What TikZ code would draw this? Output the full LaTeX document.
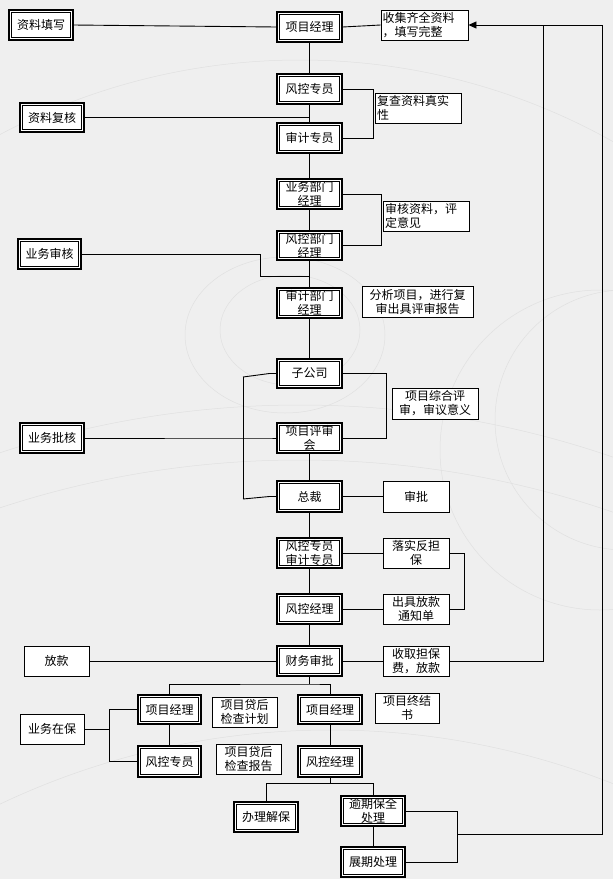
\documentclass[tikz,border=0pt]{standalone}
\usepackage{fontspec}
\newfontfamily\cjk{Noto Sans CJK SC}
\usetikzlibrary{arrows.meta,calc}
\definecolor{pageBg}  {HTML}{EFEFEF}
\definecolor{pageArc} {HTML}{E0E0E0}
\definecolor{flowInk} {HTML}{000000}
\newcommand{\boxat}[7]{%
  \pgfmathsetmacro{\bxc}{(#3+#5)/2}\pgfmathsetmacro{\byc}{(#4+#6)/2}
  \pgfmathsetmacro{\bw}{#5-#3}\pgfmathsetmacro{\bh}{#6-#4}
  \node[#2, minimum width=\bw pt, minimum height=\bh pt] (#1) at (\bxc,\byc) {#7};
}

\begin{document}
\begin{tikzpicture}[x=1pt, y=-1pt,
  every node/.style ={font=\cjk\fontsize{12}{14}\selectfont, inner sep=1pt, align=center, text=flowInk},
  sbox/.style       ={draw=flowInk, line width=0.9pt, fill=white},
  dbox/.style       ={draw=flowInk, line width=1.2pt, fill=white,
                      path picture={\draw[flowInk, line width=0.8pt]
                        ([shift={(2.5pt,2.5pt)}]path picture bounding box.south west) rectangle
                        ([shift={(-2.5pt,-2.5pt)}]path picture bounding box.north east);}},
  lbox/.style       ={sbox, align=left},
  link/.style       ={line width=0.9pt, flowInk},
  back/.style       ={-{Triangle[length=8pt,width=7pt]}, line width=0.9pt, flowInk},
  ring/.style       ={pageArc, line width=0.5pt},
]

\fill[pageBg] (0,0) rectangle (613,879);
\useasboundingbox (0,0) rectangle (613,879);

% faint background rings
\begin{scope}
\clip (0,0) rectangle (613,879);
\draw[ring] (290,330) ellipse [x radius=70pt, y radius=55pt];
\draw[ring] (285,335) ellipse [x radius=100pt, y radius=78pt];
\draw[ring] (300,700) circle [radius=640pt];
\draw[ring] (300,1366) circle [radius=961pt];
\draw[ring] (300,1420) circle [radius=960pt];
\draw[ring] (600,450) circle [radius=160pt];
\draw[ring] (625,420) circle [radius=130pt];
\draw[ring] (330,1500) circle [radius=770pt];
\end{scope}

% boxes
\boxat{zltx}{dbox}{9}{10}{73}{40}{资料填写}
\boxat{xmjl}{dbox}{277}{12}{342}{42}{项目经理}
\boxat{sjzl}{lbox, text width=84pt}{381}{10}{468}{40}{收集齐全资料\\，填写完整}
\boxat{fkzy}{dbox}{277}{74}{342}{104}{风控专员}
\boxat{zlfh}{dbox}{20}{103}{84}{132}{资料复核}
\boxat{fczl}{lbox, text width=82pt}{375}{93}{461}{123}{复查资料真实\\性}
\boxat{sjzy}{dbox}{277}{123}{342}{153}{审计专员}
\boxat{ywbm}{dbox}{277}{179}{342}{209}{业务部门\\经理}
\boxat{shzl}{lbox, text width=82pt}{383}{201}{469}{231}{审核资料，评\\定意见}
\boxat{fkbm}{dbox}{277}{231}{342}{260}{风控部门\\经理}
\boxat{ywsh}{dbox}{18}{239}{81}{269}{业务审核}
\boxat{sjbm}{dbox}{277}{288}{342}{318}{审计部门\\经理}
\boxat{fxxm}{sbox}{362}{286}{473}{317}{分析项目，进行复\\审出具评审报告}
\boxat{zgs}{dbox}{277}{359}{342}{388}{子公司}
\boxat{zhps}{sbox}{392}{388}{478}{419}{项目综合评\\审，审议意义}
\boxat{ywpk}{dbox}{20}{423}{84}{453}{业务批核}
\boxat{psh}{dbox}{277}{423}{342}{453}{项目评审\\会}
\boxat{zc}{dbox}{277}{481}{342}{512}{总裁}
\boxat{sp}{sbox}{383}{481}{449}{512}{审批}
\boxat{fksj}{dbox}{277}{538}{342}{568}{风控专员\\审计专员}
\boxat{lsdb}{sbox}{383}{538}{449}{568}{落实反担\\保}
\boxat{fkjl}{dbox}{277}{594}{342}{624}{风控经理}
\boxat{cjfk}{sbox}{383}{594}{449}{624}{出具放款\\通知单}
\boxat{fk}{sbox}{24}{646}{89}{676}{放款}
\boxat{cwsp}{dbox}{277}{646}{342}{676}{财务审批}
\boxat{sqdb}{sbox}{383}{646}{449}{676}{收取担保\\费，放款}
\boxat{xmjlL}{dbox}{138}{695}{201}{724}{项目经理}
\boxat{dhjh}{sbox}{212}{697}{277}{727}{项目贷后\\检查计划}
\boxat{xmjlR}{dbox}{298}{695}{362}{724}{项目经理}
\boxat{zjs}{sbox}{375}{693}{439}{723}{项目终结\\书}
\boxat{ywzb}{sbox}{20}{714}{84}{744}{业务在保}
\boxat{fkzyL}{dbox}{138}{746}{201}{777}{风控专员}
\boxat{dhbg}{sbox}{216}{744}{281}{774}{项目贷后\\检查报告}
\boxat{fkjlR}{dbox}{298}{746}{362}{777}{风控经理}
\boxat{bljb}{dbox}{234}{802}{298}{832}{办理解保}
\boxat{yqbq}{dbox}{341}{796}{405}{826}{逾期保全\\处理}
\boxat{zqcl}{dbox}{341}{847}{405}{877}{展期处理}

% junction points
\coordinate (shJ)  at (260,276);
\coordinate (pkT)  at (243,377);
\coordinate (pkB)  at (243,499);
\coordinate (cwJ)  at (309.5,684);
\coordinate (zbJ)  at (109.5,729);
\coordinate (jlJ)  at (330,783);
\coordinate (yqJ)  at (457,834);
\coordinate (fbMid) at (543,25);
\coordinate (fbOut) at (602,25);

% main spine
\draw[link] (zltx.east) -- (xmjl.west);
\draw[link] (xmjl.east) -- (sjzl.west);
\draw[link] (xmjl.south) -- (fkzy.north);
\draw[link] (fkzy.south) -- (sjzy.north);
\draw[link] (sjzy.south) -- (ywbm.north);
\draw[link] (ywbm.south) -- (fkbm.north);
\draw[link] (fkbm.south) -- (sjbm.north);
\draw[link] (sjbm.south) -- (zgs.north);
\draw[link] (psh.south) -- (zc.north);
\draw[link] (zc.south) -- (fksj.north);
\draw[link] (fksj.south) -- (fkjl.north);
\draw[link] (fkjl.south) -- (cwsp.north);

% side links
\draw[link] (zlfh.east) -- (zlfh.east -| fkzy.south);
\draw[link] (fkzy.east) -- ++(31,0) |- (sjzy.east);
\draw[link] (ywbm.east) -- ++(39,0) |- (fkbm.east);
\draw[link] (ywsh.east) -| (shJ) -- (shJ -| fkbm.south);
\draw[link] (zgs.east) -- ++(44,0) |- (psh.east);
\draw[link] (pkT) -- (pkB);
\draw[link] (ywpk.east) -- (ywpk.east -| pkT) -- ([xshift=-7pt]psh.west) -- (psh.west);
\draw[link] (pkT) -- ([xshift=-7pt]zgs.west) -- (zgs.west);
\draw[link] (pkB) -- ([xshift=-7pt]zc.west) -- (zc.west);
\draw[link] (zc.east) -- (sp.west);
\draw[link] (fksj.east) -- (lsdb.west);
\draw[link] (lsdb.east) -- ++(15,0) |- (cjfk.east);
\draw[link] (fkjl.east) -- (cjfk.west);
\draw[link] (fk.east) -- (cwsp.west);
\draw[link] (cwsp.east) -- (sqdb.west);

% after loan
\draw[link] (cwsp.south) -- (cwJ);
\draw[link] (xmjlL.north) |- (cwJ) -| (xmjlR.north);
\draw[link] (xmjlL.south) -- (fkzyL.north);
\draw[link] (xmjlR.south) -- (fkjlR.north);
\draw[link] (ywzb.east) -- (zbJ);
\draw[link] (xmjlL.west) -| (zbJ) |- (fkzyL.west);
\draw[link] (fkjlR.south) -- (jlJ);
\draw[link] (bljb.north) |- (jlJ) -| (yqbq.north);
\draw[link] (yqbq.south) -- (zqcl.north);
\draw[link] (yqbq.east) -- ++(52,0) |- (zqcl.east);

% feedback to the top
\draw[link] (sqdb.east) -| (fbMid);
\draw[back] (yqJ) -| (fbOut) -- (sjzl.east);

\end{tikzpicture}
\end{document}
